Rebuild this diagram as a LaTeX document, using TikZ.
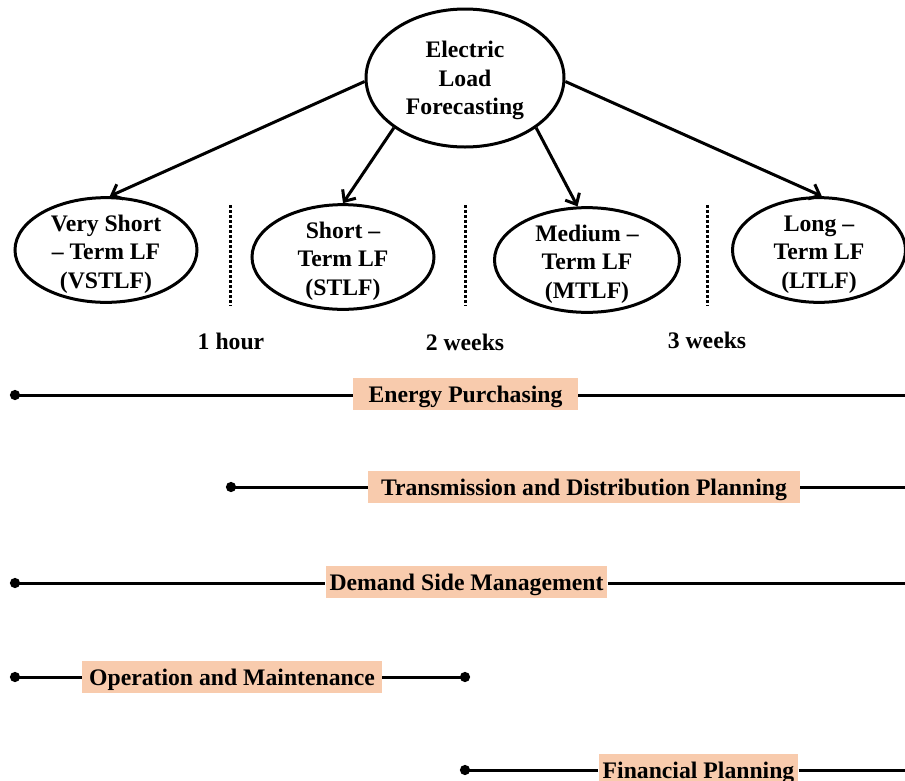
\documentclass[tikz,border=0pt]{standalone}
\usepackage{fontspec}
\setmainfont{Liberation Serif}
\usetikzlibrary{shapes.geometric}
\usetikzlibrary{arrows.meta}

\definecolor{peach}{HTML}{F8CBAD}
\newcommand{\topstrut}[1]{\rule{0pt}{#1}}

\tikzset{
  txt/.style={font=\bfseries\fontsize{23.7}{28.5}\selectfont},
  lf/.style={txt, ellipse, draw, line width=3pt, align=center,
    inner xsep=0pt, inner ysep=-6.5pt, minimum width=182pt},
  task/.style={txt, fill=peach, inner xsep=4pt, minimum height=32pt,
    text height=20pt, text depth=3pt},
  bar/.style={line width=3pt},
  link/.style={line width=3pt, -{Straight Barb[length=9pt,width=16pt]}},
  sep/.style={line width=3pt, dash pattern=on 2.5pt off 2.5pt}
}

\begin{document}
\begin{tikzpicture}[x=1pt,y=-1pt]
  \useasboundingbox (0,0) rectangle (905,780);
  \clip (0,0) rectangle (905,780);

  % Main node and the four horizons
  \node[lf, minimum width=198pt, minimum height=138pt] (elf) at (465,78)
    {\topstrut{22pt}Electric\\Load\\Forecasting};
  \node[lf] (vst) at (106,250) {\topstrut{25pt}Very Short\\-- Term LF\\(VSTLF)};
  \node[lf] (stl) at (343,257) {\topstrut{25pt}Short --\\Term LF\\(STLF)};
  \node[lf, minimum width=185pt] (mtl) at (587,260) {\topstrut{25pt}Medium --\\Term LF\\(MTLF)};
  \node[lf, minimum width=173pt] (ltl) at (819,250) {\topstrut{25pt}Long --\\Term LF\\(LTLF)};

  % Arrows from the main node
  \draw[link] (elf.182) -- (vst.86);
  \draw[link] (elf.215) -- (stl.90);
  \draw[link] (elf.325) -- (mtl.100);
  \draw[link] (elf.358) -- (ltl.87);

  % Dotted borders and times
  \foreach \x in {230,465,707}
    \draw[sep] (\x,205) -- (\x,306);
  \node[txt] (t1) at (231,341) {1 hour};
  \node[txt] (t2) at (465,342) {2 weeks};
  \node[txt] (t3) at (707,340) {3 weeks};

  % Applications
  \node[task, minimum width=225pt] (ep) at (465.5,394) {Energy Purchasing};
  \node[task, minimum width=432pt] (tdp) at (584,487) {Transmission and Distribution Planning};
  \node[task, minimum width=279pt] (dsm) at (466.5,582) {Demand Side Management};
  \node[task, minimum width=300pt] (om) at (232,677) {Operation and Maintenance};
  \node[task, minimum width=199pt] (fp) at (698.5,770) {Financial Planning};

  \coordinate (ep-s) at (10,395);   \coordinate (ep-e) at (910,395);
  \coordinate (tdp-s) at (226,487); \coordinate (tdp-e) at (910,487);
  \coordinate (dsm-s) at (10,583);  \coordinate (dsm-e) at (910,583);
  \coordinate (om-s) at (10,677);   \coordinate (om-e) at (470,677);
  \coordinate (fp-s) at (460,770);  \coordinate (fp-e) at (910,770);

  \draw[bar, {Circle[length=10pt]}-] (ep-s) -- (ep-s -| ep.west);
  \draw[bar] (ep-e -| ep.east) -- (ep-e);
  \draw[bar, {Circle[length=10pt]}-] (tdp-s) -- (tdp);
  \draw[bar] (tdp) -- (tdp-e);
  \draw[bar, {Circle[length=10pt]}-] (dsm-s) -- (dsm-s -| dsm.west);
  \draw[bar] (dsm-e -| dsm.east) -- (dsm-e);
  \draw[bar, {Circle[length=10pt]}-] (om-s) -- (om);
  \draw[bar, -{Circle[length=10pt]}] (om) -- (om-e);
  \draw[bar, {Circle[length=10pt]}-] (fp-s) -- (fp);
  \draw[bar] (fp) -- (fp-e);

\end{tikzpicture}
\end{document}
